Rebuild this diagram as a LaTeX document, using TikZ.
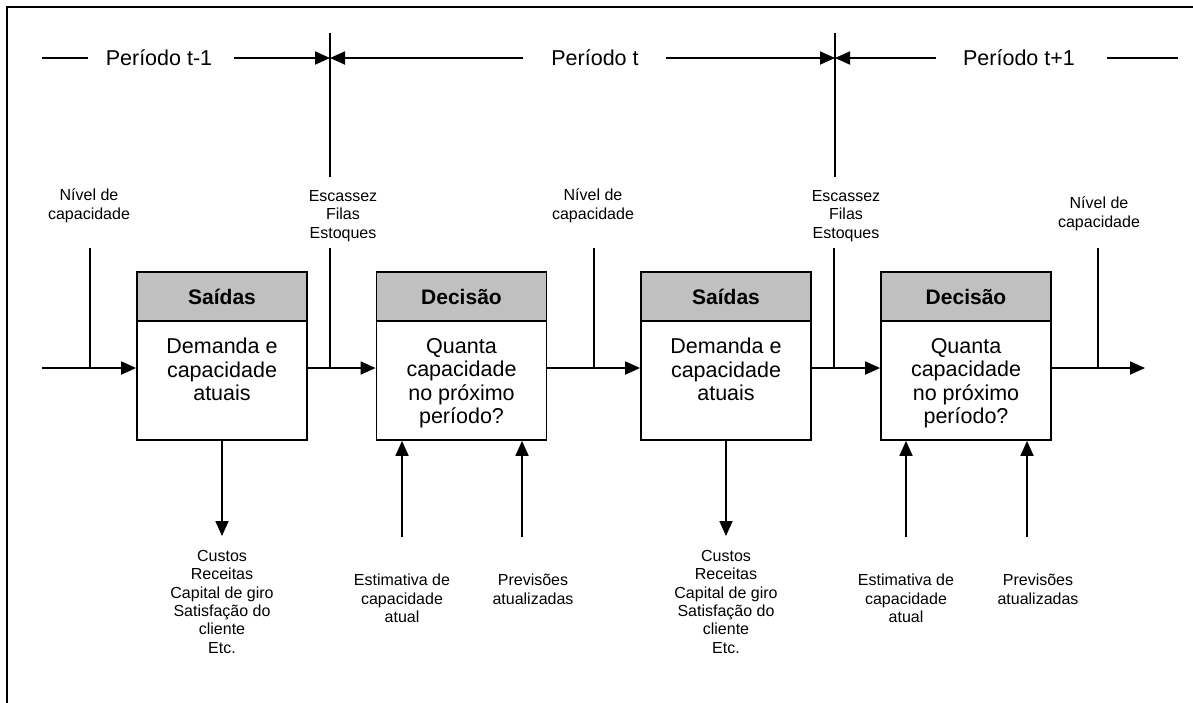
\documentclass[tikz,border=0pt]{standalone}
\usepackage{fontspec}
\setmainfont{Liberation Sans}
\usetikzlibrary{arrows.meta}
\definecolor{hdrgray}{RGB}{192,192,192}
\begin{document}
\begin{tikzpicture}[x=1pt,y=-1pt,
  ln/.style={line width=1.8pt},
  thickdash/.style={line width=2.6pt},
  arr/.style={line width=1.8pt,-{Triangle[length=15pt,width=13pt]}},
  hdr/.style={draw,line width=1.8pt,fill=hdrgray,minimum width=170pt,minimum height=49pt,inner sep=0pt,font=\fontsize{21}{24}\selectfont\bfseries},
  bodybox/.style={draw,line width=1.8pt,fill=white,minimum width=170pt,minimum height=119pt,inner sep=0pt},
  bodytxt/.style={anchor=north,align=center,inner sep=0pt,font=\fontsize{21.5}{23.4}\selectfont},
  lbl/.style={anchor=north,align=center,inner sep=0pt,font=\fontsize{16}{18.4}\selectfont},
  per/.style={inner sep=0pt,font=\fontsize{21.5}{24}\selectfont}]
\useasboundingbox (0,0) rectangle (1193,702);
% frame
\draw[line width=2pt] (7,710) -- (7,7) -- (1200,7);

% period header
\coordinate (k1) at (42,58); \coordinate (k2) at (88,58);
\coordinate (k3) at (1107,58); \coordinate (k4) at (1178,58);
\draw[thickdash] (k1) -- (k2);
\draw[thickdash] (k3) -- (k4);
\node[per] (p1) at (159,58) {Período t-1};
\node[per] (p2) at (595,58) {Período t};
\node[per] (p3) at (1019,58) {Período t+1};
\coordinate (d1a) at (330,33); \coordinate (d1b) at (330,177); \coordinate (d1m) at (330,58);
\coordinate (d2a) at (835,33); \coordinate (d2b) at (835,177); \coordinate (d2m) at (835,58);
\draw[ln] (d1a) -- (d1b);
\draw[ln] (d2a) -- (d2b);
\coordinate (a1) at (234,58); \coordinate (a2) at (523,58);
\coordinate (a3) at (666,58); \coordinate (a4) at (936,58);
\draw[arr] (a1) -- (d1m);
\draw[arr] (a2) -- (d1m);
\draw[arr] (a3) -- (d2m);
\draw[arr] (a4) -- (d2m);

% boxes
\node[hdr] (h1) at (222,296.5) {Saídas};
\node[bodybox] (b1) at (222,380.5) {};
\node[bodytxt] (t1) at (222,338) {Demanda e\\capacidade\\atuais};
\node[hdr] (h2) at (461.5,296.5) {Decisão};
\node[bodybox] (b2) at (461.5,380.5) {};
\node[bodytxt] (t2) at (461.5,338) {Quanta\\capacidade\\no próximo\\período?};
\node[hdr] (h3) at (726,296.5) {Saídas};
\node[bodybox] (b3) at (726,380.5) {};
\node[bodytxt] (t3) at (726,338) {Demanda e\\capacidade\\atuais};
\node[hdr] (h4) at (966,296.5) {Decisão};
\node[bodybox] (b4) at (966,380.5) {};
\node[bodytxt] (t4) at (966,338) {Quanta\\capacidade\\no próximo\\período?};

% main flow
\coordinate (m) at (0,368);
\coordinate (s0) at (42,368);
\coordinate (e0) at (1145,368);
\draw[arr] (s0) -- (b1.west |- m);
\draw[arr] (b1.east |- m) -- (b2.west |- m);
\draw[arr] (b2.east |- m) -- (b3.west |- m);
\draw[arr] (b3.east |- m) -- (b4.west |- m);
\draw[arr] (b4.east |- m) -- (e0);

% vertical inputs on main flow
\coordinate (n1) at (90,248);
\coordinate (n2) at (330,248);
\coordinate (n3) at (594,248);
\coordinate (n4) at (834,248);
\coordinate (n5) at (1098,248);
\draw[ln] (n1) -- (n1 |- m);
\draw[ln] (n2) -- (n2 |- m);
\draw[ln] (n3) -- (n3 |- m);
\draw[ln] (n4) -- (n4 |- m);
\draw[ln] (n5) -- (n5 |- m);
\node[lbl] (l1) at (89,189) {Nível de\\capacidade};
\node[lbl] (l2) at (343,190) {Escassez\\Filas\\Estoques};
\node[lbl] (l3) at (593,189) {Nível de\\capacidade};
\node[lbl] (l4) at (846,190) {Escassez\\Filas\\Estoques};
\node[lbl] (l5) at (1099,197) {Nível de\\capacidade};

% outputs
\coordinate (o1) at (222,536);
\coordinate (o3) at (726,536);
\draw[arr] (b1.south) -- (o1);
\draw[arr] (b3.south) -- (o3);
\node[lbl] (c1) at (222,550) {Custos\\Receitas\\Capital de giro\\Satisfação do\\cliente\\Etc.};
\node[lbl] (c3) at (726,550) {Custos\\Receitas\\Capital de giro\\Satisfação do\\cliente\\Etc.};

% inputs to decisions
\coordinate (u1) at (402,537);
\coordinate (u2) at (522,537);
\coordinate (u3) at (906,537);
\coordinate (u4) at (1027,537);
\draw[arr] (u1) -- (u1 |- b2.south);
\draw[arr] (u2) -- (u2 |- b2.south);
\draw[arr] (u3) -- (u3 |- b4.south);
\draw[arr] (u4) -- (u4 |- b4.south);
\node[lbl] (r1) at (402,574) {Estimativa de\\capacidade\\atual};
\node[lbl] (r2) at (533,574) {Previsões\\atualizadas};
\node[lbl] (r3) at (906,574) {Estimativa de\\capacidade\\atual};
\node[lbl] (r4) at (1038,574) {Previsões\\atualizadas};
\end{tikzpicture}
\end{document}
